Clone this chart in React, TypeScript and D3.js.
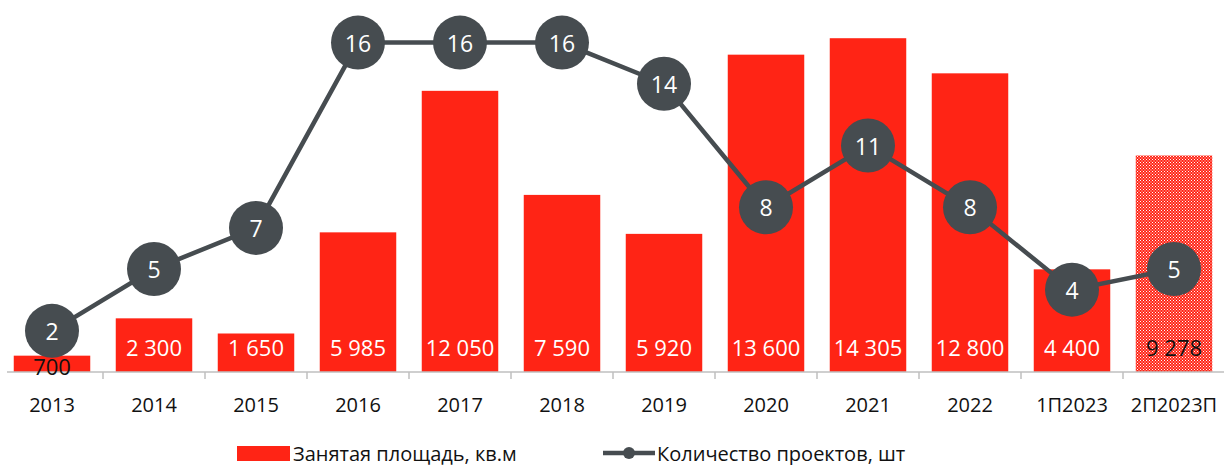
import React from "react";
import * as d3 from "d3";

const categories = ["2013", "2014", "2015", "2016", "2017", "2018", "2019", "2020", "2021", "2022", "1П2023", "2П2023П"];
const areaValues = [700, 2300, 1650, 5985, 12050, 7590, 5920, 13600, 14305, 12800, 4400, 9278];
const areaLabels = ["700", "2 300", "1 650", "5 985", "12 050", "7 590", "5 920", "13 600", "14 305", "12 800", "4 400", "9 278"];
const projectCounts = [2, 5, 7, 16, 16, 16, 14, 8, 11, 8, 4, 5];
const forecastFlags = [false, false, false, false, false, false, false, false, false, false, false, true];
const legendLabels = ["Занятая площадь, кв.м", "Количество проектов, шт"];

const W = 1224;
const H = 465;
const RED = "#FF2415";
const DARK = "#464C50";
const FONT = "'Open Sans', 'Noto Sans', sans-serif";

export default function App() {
  const baseY = 372;
  const x = d3.scaleBand<string>().domain(categories).range([1, 1225]).paddingInner(0.25).paddingOuter(0.125);
  const yBar = d3.scaleLinear().domain([0, 15000]).range([baseY, 22]);
  const yLine = d3.scaleLinear().domain([0, 17]).range([baseY, 22]);
  const step = x.step();
  const cx = (c: string) => (x(c) ?? 0) + x.bandwidth() / 2;

  const line = d3
    .line<number>()
    .x((_, i) => cx(categories[i]))
    .y((d) => yLine(d));

  return (
    <svg
      width={W}
      height={H}
      style={{ display: "block", background: "#fff", position: "fixed", top: 0, left: 0 }}
      fontFamily={FONT}
    >
      <defs>
        <pattern id="hatch" width={3} height={3} patternUnits="userSpaceOnUse">
          <rect width={3} height={3} fill={RED} />
          <rect x={0} y={0} width={1} height={1} fill="#fff" />
          <rect x={1.5} y={1.5} width={1} height={1} fill="#fff" />
        </pattern>
      </defs>

      {/* bars */}
      {categories.map((c, i) => (
        <rect
          key={c}
          x={x(c)}
          y={yBar(areaValues[i])}
          width={x.bandwidth()}
          height={baseY - yBar(areaValues[i])}
          fill={forecastFlags[i] ? "url(#hatch)" : RED}
        />
      ))}

      {/* axis */}
      <line x1={7} x2={1224} y1={baseY} y2={baseY} stroke="#BFBFBF" strokeWidth={1.5} />
      {categories.slice(1).map((c) => {
        const tx = (x(c) ?? 0) - (step - x.bandwidth()) / 2;
        return <line key={c} x1={tx} x2={tx} y1={baseY} y2={baseY + 7} stroke="#BFBFBF" strokeWidth={1.5} />;
      })}
      {categories.map((c) => (
        <text key={c} x={cx(c)} y={404} textAnchor="middle" dominantBaseline="central" fontSize={20} fill="#111">
          {c}
        </text>
      ))}

      {/* bar labels */}
      {categories.map((c, i) => {
        const h = baseY - yBar(areaValues[i]);
        const small = h < 25;
        const ly = small ? baseY - h / 2 + 2 : baseY - 25;
        const white = !small && !forecastFlags[i];
        return (
          <text key={c} x={cx(c)} y={ly} textAnchor="middle" dominantBaseline="central" fontSize={22} fill={white ? "#fff" : "#111"}>
            {areaLabels[i]}
          </text>
        );
      })}

      {/* line */}
      <path d={line(projectCounts) ?? ""} fill="none" stroke={DARK} strokeWidth={4.5} />
      {projectCounts.map((v, i) => (
        <g key={i}>
          <circle cx={cx(categories[i])} cy={yLine(v)} r={27} fill={DARK} />
          <text x={cx(categories[i])} y={yLine(v)} textAnchor="middle" dominantBaseline="central" fontSize={23} fill="#fff">
            {v}
          </text>
        </g>
      ))}

      {/* legend */}
      <rect x={237} y={446} width={53} height={15} fill={RED} />
      <text x={293} y={453} dominantBaseline="central" fontSize={20} fill="#111">
        {legendLabels[0]}
      </text>
      <line x1={603} x2={655} y1={453} y2={453} stroke={DARK} strokeWidth={4.5} />
      <circle cx={629} cy={453} r={6} fill={DARK} />
      <text x={657} y={453} dominantBaseline="central" fontSize={20} fill="#111">
        {legendLabels[1]}
      </text>
    </svg>
  );
}
